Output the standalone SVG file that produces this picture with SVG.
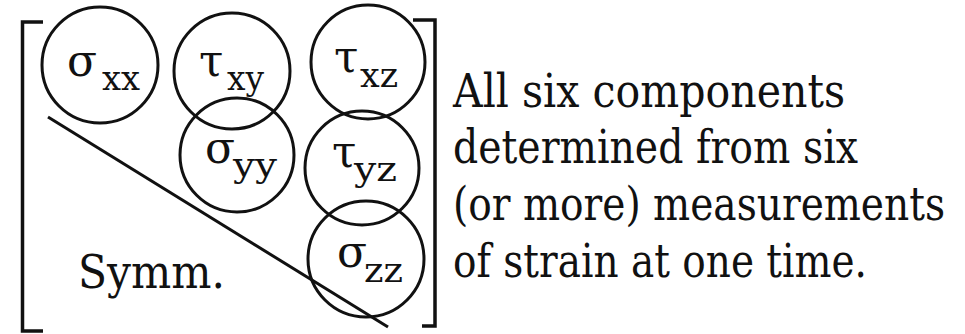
<svg xmlns="http://www.w3.org/2000/svg" width="965" height="334" viewBox="0 0 965 334" font-family="DejaVu Serif, serif">
<rect width="965" height="334" fill="#fff"/>
<g id="brackets" fill="none" stroke="#111" stroke-width="3.5">
<path d="M43 22 H22.5 V331 H43"/>
<path d="M413 20 H435 V326 H422"/>
</g>
<g id="connectors" fill="none" stroke="#111" stroke-width="3">
<line x1="48" y1="117" x2="388" y2="327"/>
</g>
<g id="nodes" fill="none" stroke="#111" stroke-width="3">
<g id="sxx"><circle cx="100" cy="65" r="58"/><text fill="#111" stroke="none" font-family="DejaVu Serif" font-size="44" x="67" y="76">σ</text><text fill="#111" stroke="none" font-family="DejaVu Serif" font-size="33" x="102" y="90" textLength="38" lengthAdjust="spacingAndGlyphs">xx</text></g>
<g id="txy"><circle cx="232" cy="71" r="58"/><text fill="#111" stroke="none" font-family="DejaVu Serif" font-size="44" x="199" y="76">τ</text><text fill="#111" stroke="none" font-family="DejaVu Serif" font-size="33" x="227" y="90" textLength="37" lengthAdjust="spacingAndGlyphs">xy</text></g>
<g id="txz"><circle cx="368" cy="62" r="57"/><text fill="#111" stroke="none" font-family="DejaVu Serif" font-size="44" x="334" y="72">τ</text><text fill="#111" stroke="none" font-family="DejaVu Serif" font-size="33" x="360" y="87" textLength="38" lengthAdjust="spacingAndGlyphs">xz</text></g>
<g id="syy"><circle cx="237" cy="155" r="57"/><text fill="#111" stroke="none" font-family="DejaVu Serif" font-size="44" x="205" y="163">σ</text><text fill="#111" stroke="none" font-family="DejaVu Serif" font-size="33" x="233" y="177" textLength="44" lengthAdjust="spacingAndGlyphs">yy</text></g>
<g id="tyz"><circle cx="362" cy="168" r="57"/><text fill="#111" stroke="none" font-family="DejaVu Serif" font-size="44" x="332" y="167">τ</text><text fill="#111" stroke="none" font-family="DejaVu Serif" font-size="33" x="354" y="181" textLength="43" lengthAdjust="spacingAndGlyphs">yz</text></g>
<g id="szz"><circle cx="366" cy="259" r="58"/><text fill="#111" stroke="none" font-family="DejaVu Serif" font-size="44" x="337" y="267">σ</text><text fill="#111" stroke="none" font-family="DejaVu Serif" font-size="33" x="364" y="282" textLength="39" lengthAdjust="spacingAndGlyphs">zz</text></g>
</g>
<g id="symm"><text fill="#111" font-family="DejaVu Serif" font-size="46" x="78" y="288" textLength="147" lengthAdjust="spacingAndGlyphs">Symm.</text></g>
<g id="note" fill="#111" font-family="DejaVu Serif" font-size="46" lengthAdjust="spacingAndGlyphs">
<text x="453" y="107" textLength="392" lengthAdjust="spacingAndGlyphs">All six components</text>
<text x="453" y="163" textLength="405" lengthAdjust="spacingAndGlyphs">determined from six</text>
<text x="453" y="220" textLength="492" lengthAdjust="spacingAndGlyphs">(or more) measurements</text>
<text x="453" y="277" textLength="414" lengthAdjust="spacingAndGlyphs">of strain at one time.</text>
</g>
</svg>
